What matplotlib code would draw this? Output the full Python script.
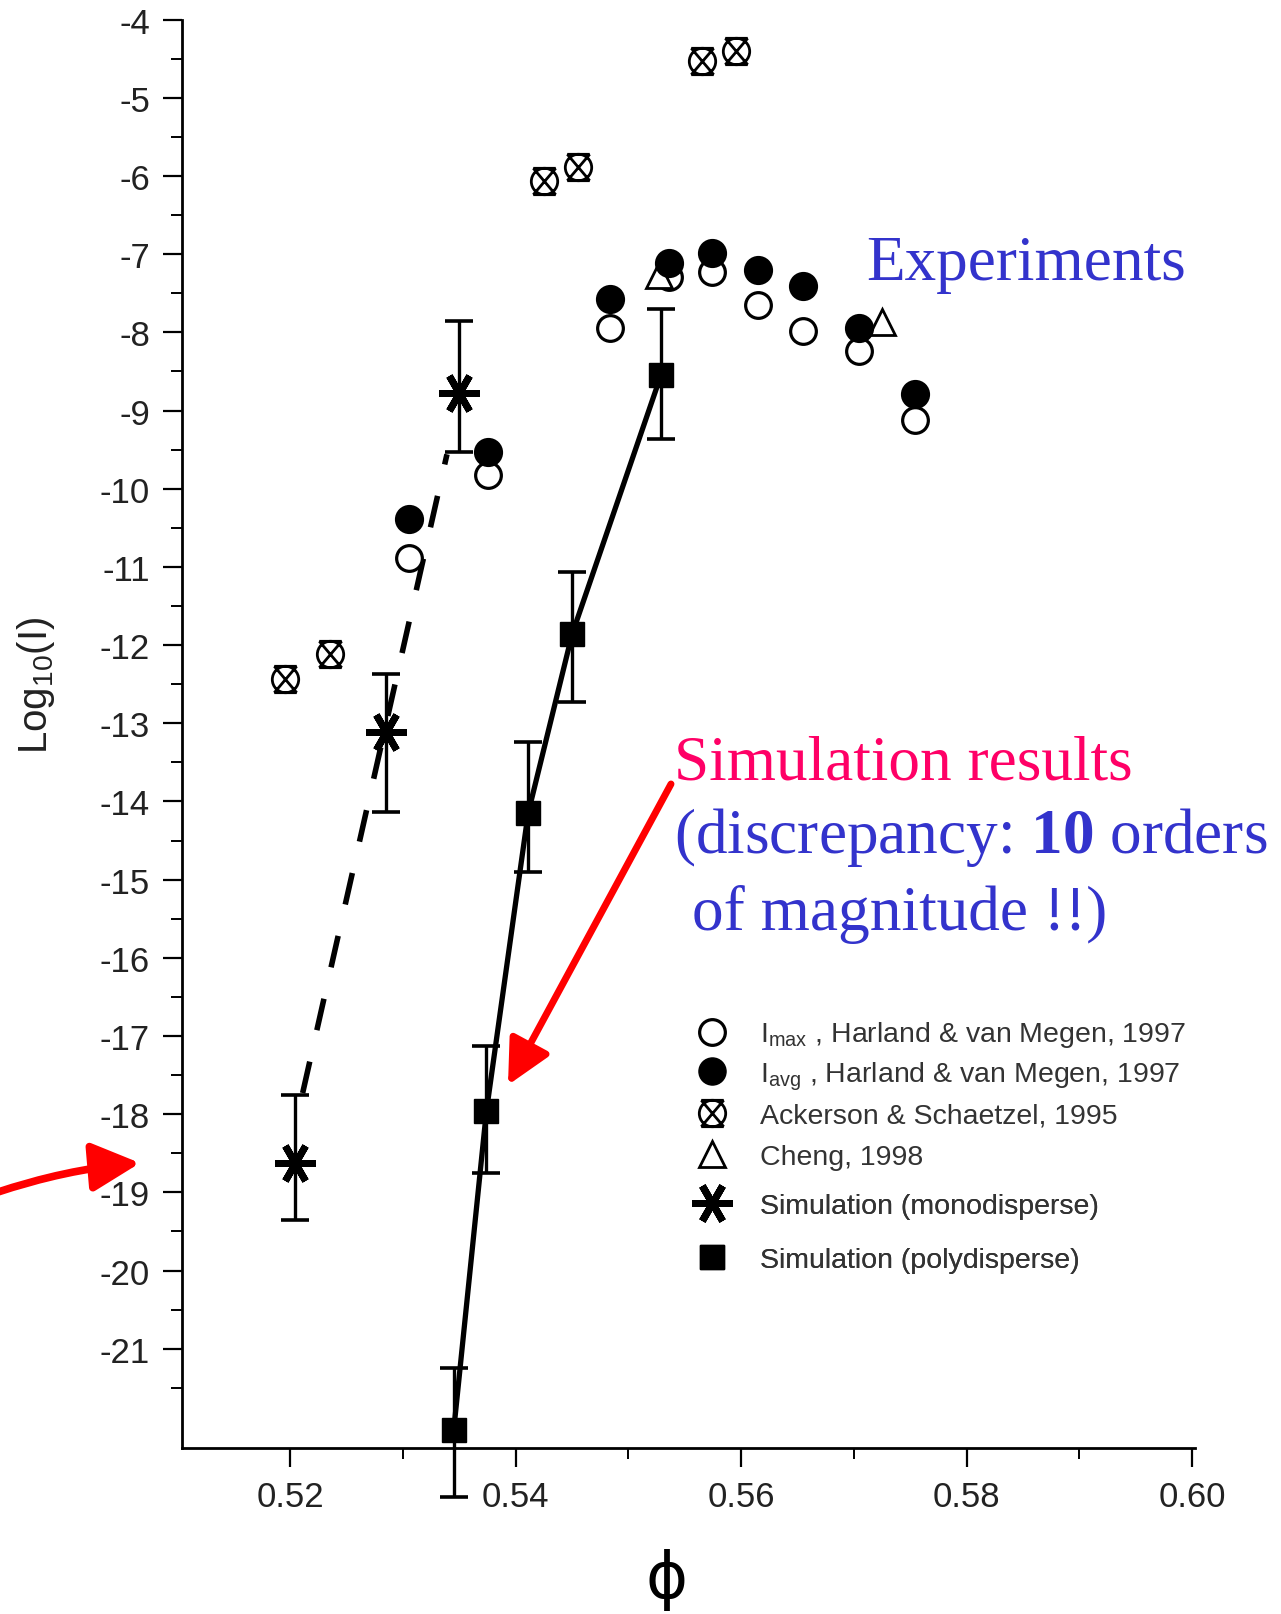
import numpy as np
import matplotlib
matplotlib.use('Agg')
import matplotlib.pyplot as plt
from matplotlib.path import Path
from matplotlib.lines import Line2D

plt.rcParams['font.family'] = ['Liberation Sans', 'DejaVu Sans']
plt.rcParams['axes.unicode_minus'] = False
plt.rcParams['mathtext.fontset'] = 'custom'
plt.rcParams['mathtext.rm'] = 'Liberation Serif'
plt.rcParams['mathtext.bf'] = 'Liberation Serif:bold'

# Harland & van Megen 1997, I_max (open) and I_avg (filled)
phi_hvm = [0.5305, 0.5375, 0.5484, 0.5536, 0.5574, 0.5615, 0.5655, 0.5704, 0.5754]
log_imax = [-10.89, -9.82, -7.94, -7.29, -7.23, -7.65, -7.98, -8.24, -9.12]
log_iavg = [-10.39, -9.53, -7.58, -7.11, -6.98, -7.20, -7.41, -7.95, -8.79]

# Ackerson & Schaetzel 1995
phi_ack = [0.5195, 0.5235, 0.5425, 0.5455, 0.5565, 0.5595]
log_ack = [-12.44, -12.12, -6.07, -5.88, -4.53, -4.40]

# Cheng 1998
phi_cheng = [0.5527, 0.5725]
log_cheng = [-7.27, -7.87]

# simulation, monodisperse (value, lower end, upper end of error bar)
phi_mono = [0.5204, 0.5285, 0.5350]
log_mono = [-18.62, -13.11, -8.78]
mono_lo = [-19.35, -14.13, -9.53]
mono_hi = [-17.76, -12.37, -7.85]
# dashed guide line for monodisperse
phi_mono_line = [0.5211, 0.5339]
log_mono_line = [-17.73, -9.56]

# simulation, polydisperse
phi_poly = [0.5345, 0.5374, 0.5411, 0.5450, 0.5529]
log_poly = [-22.04, -17.96, -14.15, -11.86, -8.54]
poly_lo = [-22.90, -18.75, -14.90, -12.73, -9.36]
poly_hi = [-21.25, -17.13, -13.24, -11.07, -7.70]

xticks = [0.52, 0.54, 0.56, 0.58, 0.60]
yticks = list(range(-21, -3))

hvm_labels = [r'I$_\mathregular{max}$ , Harland & van Megen, 1997',
              r'I$_\mathregular{avg}$ , Harland & van Megen, 1997']
other_labels = ['Ackerson & Schaetzel, 1995',
                'Cheng, 1998']
sim_labels = ['Simulation (monodisperse)',
              'Simulation (polydisperse)']

# circle with an X through it
crossed = Path.make_compound_path(
    Path.unit_circle(),
    Path([(-0.85, -1.0), (0.85, 1.0)]),
    Path([(-0.85, 1.0), (0.85, -1.0)]),
    Path([(-0.85, 1.0), (0.85, 1.0)]),
    Path([(-0.85, -1.0), (0.85, -1.0)]))
star = (6, 2, 90)

W, H = 1281, 1615
fig = plt.figure(figsize=(W / 100, H / 100), dpi=100)
ax = fig.add_axes([182 / W, 166 / H, 1012.5 / W, 1428.4 / H])

ax.plot(phi_hvm, log_imax, 'o', ms=18.5, mfc='white', mec='black', mew=2.3, zorder=3)
ax.plot(phi_cheng, log_cheng, '^', ms=19, mfc='white', mec='black', mew=2.0, zorder=3)
ax.plot(phi_hvm, log_iavg, 'o', ms=19.5, mfc='black', mec='black', mew=1.5, zorder=4)
ax.plot(phi_ack, log_ack, marker=crossed, ls='none', ms=19, mfc='none', mec='black', mew=2.0, zorder=3)

# monodisperse
ax.plot(phi_mono_line, log_mono_line, color='black', lw=4.0, dashes=(5.8, 5.8), zorder=2)
mono = np.array(log_mono)
ax.errorbar(phi_mono, log_mono,
            yerr=[mono - np.array(mono_lo), np.array(mono_hi) - mono],
            fmt='none', ecolor='black', elinewidth=2.4, capsize=10, capthick=2.6, zorder=3)
ax.plot(phi_mono, log_mono, marker=star, ls='none', ms=29, mec='black', mew=5, zorder=5)

# polydisperse
ax.plot(phi_poly, log_poly, color='black', lw=3.8, zorder=2, clip_on=False)
poly = np.array(log_poly)
eb = ax.errorbar(phi_poly, log_poly,
                 yerr=[poly - np.array(poly_lo), np.array(poly_hi) - poly],
                 fmt='none', ecolor='black', elinewidth=2.4, capsize=10, capthick=2.6, zorder=3)
for a in eb.lines[1] + eb.lines[2]:
    a.set_clip_on(False)
ax.plot(phi_poly, log_poly, 's', ms=17.5, color='black', zorder=5, clip_on=False)

# axes styling
ax.set_xlim(0.5104, 0.6002)
ax.set_ylim(-22.27, -4)
for s in ['top', 'right']:
    ax.spines[s].set_visible(False)
for s in ['left', 'bottom']:
    ax.spines[s].set_linewidth(2.0)
ax.set_xticks(xticks)
ax.set_xticklabels(['%.2f' % v for v in xticks])
ax.set_xticks(np.arange(0.51, 0.6, 0.01)[1:], minor=True)
ax.set_yticks(yticks)
ax.set_yticklabels(['%d' % v for v in yticks])
ax.set_yticks(np.arange(-21.5, -4, 1.0), minor=True)
ax.tick_params(which='major', direction='out', length=14, width=1.6,
               labelsize=25, labelcolor='#222222', pad=9)
ax.tick_params(which='minor', direction='out', length=8, width=1.4)

ax.set_ylabel(r'Log$_\mathregular{10}$(I)', fontsize=29, color='#222222', va='center')
ax.yaxis.set_label_coords(-0.144, 0.535)
ax.set_xlabel('\u03d5', fontsize=46, va='center', family=['DejaVu Sans'])
ax.xaxis.set_label_coords(0.479, -0.092)

# legend, in three blocks so the row spacing follows the original
hvm_handles = [
    Line2D([], [], ls='none', marker='o', ms=18.5, mfc='white', mec='black', mew=2.3),
    Line2D([], [], ls='none', marker='o', ms=19.5, mfc='black', mec='black'),
]
other_handles = [
    Line2D([], [], ls='none', marker=crossed, ms=19, mfc='none', mec='black', mew=2.0),
    Line2D([], [], ls='none', marker='^', ms=19, mfc='white', mec='black', mew=2.0),
]
sim_handles = [
    Line2D([], [], ls='none', marker=star, ms=29, mec='black', mew=5),
    Line2D([], [], ls='none', marker='s', ms=17.5, color='black'),
]
leg_kw = dict(loc='upper left', frameon=False, fontsize=20.5, handlelength=1.6,
              handletextpad=0.89, borderpad=0, borderaxespad=0)
blocks = [(hvm_handles, hvm_labels, 0.3000, 0.34),
          (other_handles, other_labels, 0.2419, 0.54),
          (sim_handles, sim_labels, 0.1785, 0.97)]
for hs, ls, ytop, sp in blocks:
    leg = ax.legend(hs, ls, bbox_to_anchor=(0.5007, ytop), labelspacing=sp, **leg_kw)
    for t in leg.get_texts():
        t.set_color('#333333')
    ax.add_artist(leg)

# annotations
blue = '#3333CC'
pink = '#FF0066'
serif = ['Liberation Serif', 'DejaVu Serif']
fig.text(866 / W, 1 - 280 / H, 'Experiments', color=blue, fontsize=45.5, family=serif, va='baseline')
fig.text(674 / W, 1 - 779 / H, 'Simulation results', color=pink, fontsize=45.5, family=serif, va='baseline')
fig.text(674 / W, 1 - 853 / H, r'(discrepancy: $\mathbf{10}$ orders', color=blue, fontsize=45.5,
         family=serif, va='baseline')
fig.text(692 / W, 1 - 930 / H, 'of magnitude !!)', color=blue, fontsize=45.5, family=serif, va='baseline')

ax.annotate('', xy=(508, H - 1086), xycoords='figure pixels',
            xytext=(671, H - 785), textcoords='figure pixels',
            arrowprops=dict(arrowstyle='-|>,head_length=0.6,head_width=0.3', mutation_scale=45,
                            color='red', lw=5, shrinkA=0, shrinkB=0))
ax.annotate('', xy=(140, H - 1164), xycoords='figure pixels',
            xytext=(-5, H - 1194), textcoords='figure pixels',
            arrowprops=dict(arrowstyle='-|>,head_length=0.65,head_width=0.33', mutation_scale=45,
                            color='red', lw=5.5, shrinkA=0, shrinkB=0,
                            connectionstyle='arc3,rad=-0.06'))

fig.savefig('out.png', dpi=100)
